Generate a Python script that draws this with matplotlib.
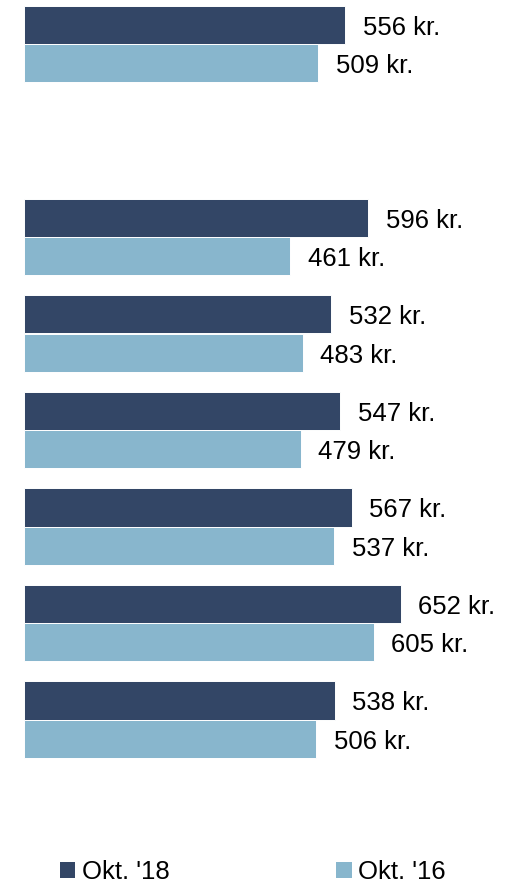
import numpy as np
import matplotlib
matplotlib.use('Agg')
import matplotlib.pyplot as plt
from matplotlib.patches import Patch

plt.rcParams['font.family'] = ['Liberation Sans', 'DejaVu Sans']

# data (second slot is empty in the original)
categories = ['', '', '', '', '', '', '', '']
okt18 = [556, np.nan, 596, 532, 547, 567, 652, 538]
okt16 = [509, np.nan, 461, 483, 479, 537, 605, 506]
series_names = ["Okt. '18", "Okt. '16"]
colors = ['#334666', '#88b6cd']

fig = plt.figure(figsize=(5.10, 8.86), dpi=100)
# axes placed so the bars land where they sit in the reference
ax = fig.add_axes([23.7 / 510, 1 - 767.75 / 886, 462.8 / 510, 772.0 / 886])

y = np.arange(len(categories))
h = 0.395
ax.barh(y - h / 2, okt18, height=h, color=colors[0], edgecolor='white', linewidth=0.7)
ax.barh(y + h / 2, okt16, height=h, color=colors[1], edgecolor='white', linewidth=0.7)

# value labels, a bit right of the bar end and slightly below its middle
for offs, vals in [(-h / 2, okt18), (h / 2, okt16)]:
    for yi, v in zip(y, vals):
        if np.isnan(v):
            continue
        ax.annotate(f'{int(v)} kr.', xy=(v, yi + offs), xytext=(12.5, -2.2),
                    textcoords='offset points', ha='left', va='center',
                    fontsize=18.5, color='black')

ax.set_xlim(0, 800)
ax.set_ylim(len(categories) - 0.5, -0.5)
ax.axis('off')

handles = [Patch(facecolor=c, edgecolor='none') for c in colors]
fig.legend(handles, series_names, loc='center left', bbox_to_anchor=(0.117, 1 - 872 / 886),
           ncol=2, frameon=False, fontsize=18.5, handlelength=0.6, handleheight=0.6,
           handletextpad=0.25, columnspacing=6.5, borderaxespad=0, borderpad=0)

fig.savefig('out.png', dpi=100)
